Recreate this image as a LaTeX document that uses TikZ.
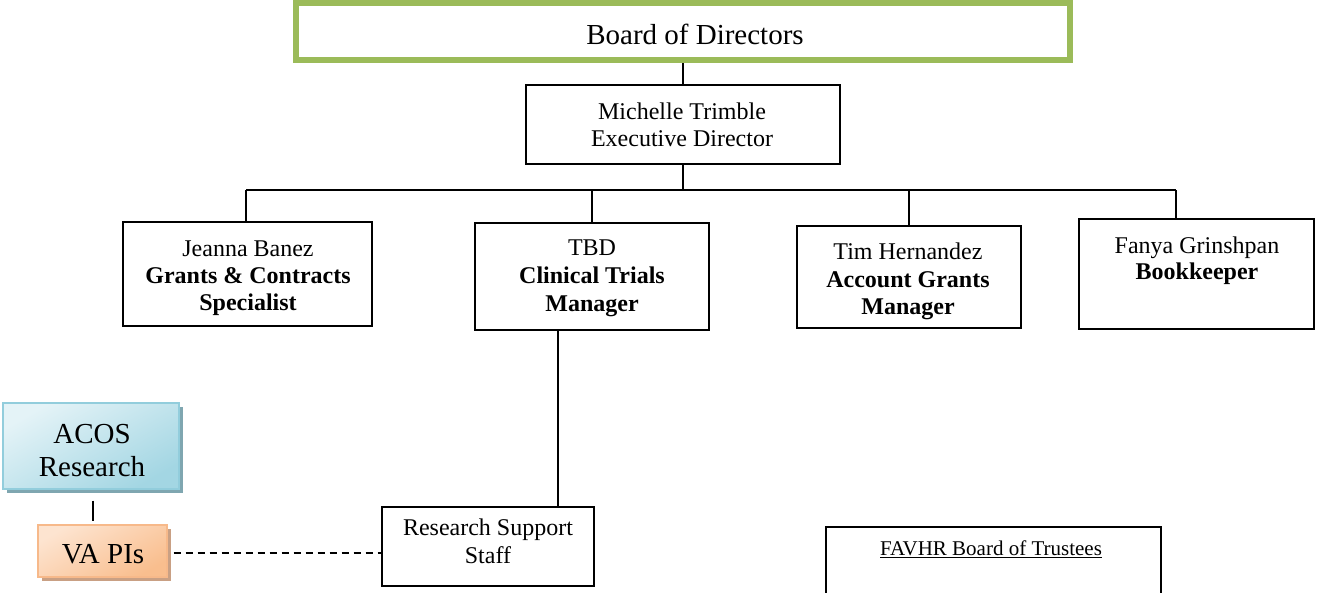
\documentclass[tikz,border=0pt]{standalone}
\usepackage{fontspec}
\setmainfont{Liberation Serif}
\definecolor{boardgreen}{HTML}{9BBB59}
\definecolor{acosA}{HTML}{E4F3F7}
\definecolor{acosB}{HTML}{A3D6E3}
\definecolor{acosLine}{HTML}{92CDDC}
\definecolor{acosShadow}{HTML}{7FA6B0}
\definecolor{vaA}{HTML}{FDE4D0}
\definecolor{vaB}{HTML}{F9BE8E}
\definecolor{vaLine}{HTML}{F7B98A}
\definecolor{vaShadow}{HTML}{C9A084}
\tikzset{
  box/.style={draw=black, line width=1.8pt, rectangle, inner sep=0pt},
  conn/.style={draw=black, line width=1.8pt},
  txt/.style={inner sep=0pt, anchor=base, font=\fontsize{24}{27}\selectfont},
  btxt/.style={txt, font=\fontsize{24}{27}\selectfont\bfseries},
  bigtxt/.style={inner sep=0pt, anchor=base, font=\fontsize{29}{33}\selectfont},
}
\begin{document}
\begin{tikzpicture}[x=1pt,y=-1pt]
\useasboundingbox (0,0) rectangle (1319,592);
\begin{scope}
\clip (0,0) rectangle (1319,592);
% Board
\node[draw=boardgreen, line width=6pt, rectangle, inner sep=0pt, minimum width=774pt, minimum height=57pt] (board) at (683,31.5) {};
\node[bigtxt] (tboard) at (695,44) {Board of Directors};
% Executive director
\node[box, minimum width=314pt, minimum height=79pt] (michelle) at (683,124.5) {};
\node[txt] (tm1) at (682,119) {Michelle Trimble};
\node[txt] (tm2) at (682,146) {Executive Director};
% Second row
\node[box, minimum width=249pt, minimum height=104pt] (jeanna) at (247.5,274) {};
\node[txt] (tj1) at (248,256) {Jeanna Banez};
\node[btxt] (tj2) at (248,283) {Grants \& Contracts};
\node[btxt] (tj3) at (248,310) {Specialist};
\node[box, minimum width=234pt, minimum height=107pt] (tbd) at (592,276.5) {};
\node[txt] (tt1) at (592,255) {TBD};
\node[btxt] (tt2) at (592,283) {Clinical Trials};
\node[btxt] (tt3) at (592,311) {Manager};
\node[box, minimum width=224pt, minimum height=102pt] (tim) at (909,277) {};
\node[txt] (th1) at (908,259) {Tim Hernandez};
\node[btxt] (th2) at (908,287) {Account Grants};
\node[btxt] (th3) at (908,314) {Manager};
\node[box, minimum width=235pt, minimum height=110pt] (fanya) at (1196.5,274) {};
\node[txt] (tf1) at (1197,253) {Fanya Grinshpan};
\node[btxt] (tf2) at (1197,279) {Bookkeeper};
% Research support
\node[box, minimum width=212pt, minimum height=79pt] (rs) at (488,546.5) {};
\node[txt] (tr1) at (488,535) {Research Support};
\node[txt] (tr2) at (488,563) {Staff};
% ACOS and VA PIs
\fill[acosShadow] (7,407) rectangle (183,493);
\node[rectangle, inner sep=0pt, minimum width=176pt, minimum height=86pt, draw=acosLine, line width=1.2pt, top color=acosA, bottom color=acosB, shading angle=30] (acos) at (91,446) {};
\node[bigtxt] (ta1) at (92,443) {ACOS};
\node[bigtxt] (ta2) at (92,476) {Research};
\fill[vaShadow] (42,529) rectangle (171,581);
\node[rectangle, inner sep=0pt, minimum width=129pt, minimum height=52pt, draw=vaLine, line width=1.2pt, top color=vaA, bottom color=vaB, shading angle=30] (vapi) at (102.5,551) {};
\node[bigtxt] (tv1) at (103,563) {VA PIs};
% FAVHR
\node[box, line width=1.5pt, minimum width=335pt, minimum height=100pt, anchor=north west] (favhr) at (825,526) {};
\node[inner sep=0pt, anchor=base, font=\fontsize{21}{24}\selectfont] (tfav) at (991,555) {\underline{FAVHR Board of Trustees}};
\end{scope}
% Connectors
\coordinate (busL) at (246,190);
\coordinate (busR) at (1176,190);
\draw[conn] (board.south) -- (michelle.north);
\draw[conn] (michelle.south) -- (michelle.south |- busL);
\draw[conn] (busL) -- (busR);
\draw[conn] (busL) -- (busL |- jeanna.north);
\draw[conn] (tbd.north |- busL) -- (tbd.north);
\draw[conn] (tim.north |- busL) -- (tim.north);
\draw[conn] (busR) -- (busR |- fanya.north);
\draw[conn] ([xshift=-34pt]tbd.south) -- ([xshift=-34pt]tbd.south |- rs.north);
\draw[conn] ([xshift=2pt,yshift=-11pt]acos.south) -- ([xshift=2pt,yshift=3pt]acos.south |- vapi.north);
\draw[conn, line width=1.5pt, dash pattern=on 7pt off 5pt] ([xshift=6pt,yshift=-2pt]vapi.east) -- ([yshift=-2pt]vapi.east -| rs.west);
\end{tikzpicture}
\end{document}
